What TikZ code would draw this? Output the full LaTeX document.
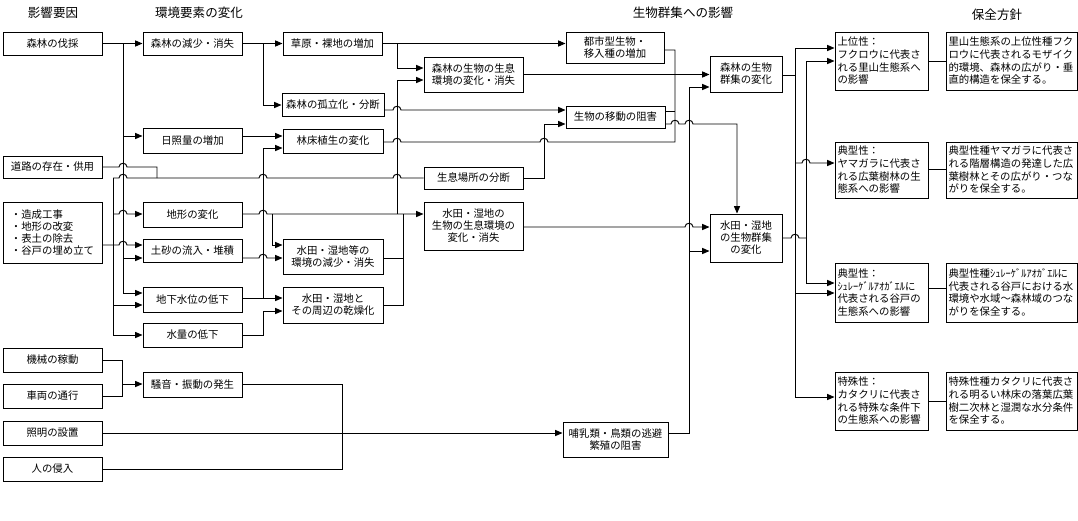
\documentclass[tikz,border=0pt]{standalone}
\usepackage{fontspec}
\setmainfont{Noto Sans CJK JP}
\usetikzlibrary{arrows.meta}
\newcommand\boxfont{\fontsize{7.8pt}{9pt}\selectfont}
\newcommand\rboxfont{\fontsize{7.8pt}{9.5pt}\selectfont}
\newcommand\hdrfont{\fontsize{9.4pt}{11pt}\selectfont}
\newcommand\hop[2]{-- ({#1-4},#2) .. controls ({#1-4},{#2-5}) and ({#1+4},{#2-5}) .. ({#1+4},#2)}
\newcommand\bx[6]{\node[box,minimum width={(#4-#2)*0.75pt},minimum height={(#5-#3)*0.75pt}] (#1) at ({(#2+#4)/2},{(#3+#5)/2}) {#6};}
\tikzset{
  box/.style={draw,line width=0.7pt,inner sep=0pt,align=center,font=\boxfont},
  gbox/.style={box,align=left,text width=66pt,inner xsep=1.875pt,inner ysep=0pt,font=\rboxfont},
  pbox/.style={box,align=left,text width=94.5pt,inner xsep=1.875pt,inner ysep=0pt,font=\rboxfont},
  hdr/.style={font=\hdrfont,inner sep=0pt},
  arr/.style={-{Triangle[length=5.5pt,width=4.5pt]}}
}
\begin{document}
\begin{tikzpicture}[x=0.75pt,y=-0.75pt,line width=0.7pt]
\useasboundingbox (0,0) rectangle (1078,521);
% headers
\node[hdr] (hd1) at (53,13) {影響要因};
\node[hdr] (hd2) at (199,13) {環境要素の変化};
\node[hdr] (hd3) at (683,13) {生物群集への影響};
\node[hdr] (hd4) at (997,15) {保全方針};
% column A
\bx{a1}{3}{32}{102}{55}{森林の伐採}
\bx{a2}{3}{156}{102}{178}{道路の存在・供用}
\node[box,align=left,minimum width=74.25pt,minimum height=45.75pt] (a3) at (52.5,232.5) {・造成工事\\・地形の改変\\・表土の除去\\・谷戸の埋め立て};
\bx{a4}{3}{348}{102}{372}{機械の稼動}
\bx{a5}{3}{384}{102}{408}{車両の通行}
\bx{a6}{3}{421}{102}{445}{照明の設置}
\bx{a7}{3}{457}{102}{481}{人の侵入}
% column B
\bx{b1}{143}{32}{242}{55}{森林の減少・消失}
\bx{b2}{143}{128}{242}{153}{日照量の増加}
\bx{b3}{143}{202}{242}{227}{地形の変化}
\bx{b4}{143}{239}{242}{262}{土砂の流入・堆積}
\bx{b5}{143}{287}{242}{312}{地下水位の低下}
\bx{b6}{143}{323}{242}{347}{水量の低下}
\bx{b7}{143}{372}{242}{397}{騒音・振動の発生}
% column C
\bx{c1}{283}{32}{382}{55}{草原・裸地の増加}
\bx{c2}{282}{93}{384}{116}{森林の孤立化・分断}
\bx{c3}{283}{129}{383}{153}{林床植生の変化}
\bx{c4}{283}{239}{383}{274}{水田・湿地等の\\環境の減少・消失}
\bx{c5}{283}{287}{383}{323}{水田・湿地と\\その周辺の乾燥化}
% column D
\bx{d1}{424}{57}{523}{92}{森林の生物の生息\\環境の変化・消失}
\bx{d2}{424}{167}{523}{189}{生息場所の分断}
\bx{d3}{424}{202}{523}{250}{水田・湿地の\\生物の生息環境の\\変化・消失}
% column E
\bx{e1}{566}{32}{664}{63}{都市型生物・\\移入種の増加}
\bx{e2}{566}{106}{665}{128}{生物の移動の阻害}
\bx{e3}{563}{422}{668}{457}{哺乳類・鳥類の逃避\\繁殖の阻害}
% column F
\bx{f1}{710}{56}{782}{92}{森林の生物\\群集の変化}
\bx{f2}{710}{214}{782}{262}{水田・湿地\\の生物群集\\の変化}
% column G
\node[gbox,minimum height=43.5pt] (g1) at (881.5,61) {上位性：\\フクロウに代表さ\\れる里山生態系へ\\の影響};
\node[gbox,minimum height=42pt] (g2) at (881.5,170) {典型性：\\ヤマガラに代表さ\\れる広葉樹林の生\\態系への影響};
\node[gbox,minimum height=44.25pt] (g3) at (881.5,292.5) {典型性：\\ｼｭﾚｰｹﾞﾙｱｵｶﾞｴﾙに\\代表される谷戸の\\生態系への影響};
\node[gbox,minimum height=43.5pt] (g4) at (881.5,401) {特殊性：\\カタクリに代表さ\\れる特殊な条件下\\の生態系への影響};
% column P
\node[pbox,minimum height=43.5pt] (p1) at (1011.5,61) {里山生態系の上位性種フク\\ロウに代表されるモザイク\\的環境、森林の広がり・垂\\直的構造を保全する。};
\node[pbox,minimum height=42pt] (p2) at (1011.5,170) {典型性種ヤマガラに代表さ\\れる階層構造の発達した広\\葉樹林とその広がり・つな\\がりを保全する。};
\node[pbox,minimum height=44.25pt] (p3) at (1011.5,292.5) {典型性種ｼｭﾚｰｹﾞﾙｱｵｶﾞｴﾙに\\代表される谷戸における水\\環境や水域～森林域のつな\\がりを保全する。};
\node[pbox,minimum height=43.5pt] (p4) at (1011.5,401) {特殊性種カタクリに代表さ\\れる明るい林床の落葉広葉\\樹二次林と湿潤な水分条件\\を保全する。};

% ---- connectors A -> B
\draw[arr] (a1.east) -- (b1.west);
\draw (123,43.5) -- (123,293);
\draw[arr] (123,136) -- (123,136 -| b2.west);
\draw[arr] (123,258) -- (123,258 -| b4.west);
\draw[arr] (123,293) -- (123,293 -| b5.west);
\draw (a2.east) \hop{123}{167} -- (157,167) -- (157,178);
\draw (113,178) \hop{123}{178} \hop{263}{178} \hop{397}{178} -- (d2.west);
\draw (113,178) -- (113,335);
\draw[arr] (113,214) \hop{123}{214} -- (113,214 -| b3.west);
\draw[arr] (a3.east |- 0,245) \hop{123}{245} -- (123,245 -| b4.west);
\draw[arr] (113,305) -- (113,305 -| b5.west);
\draw[arr] (113,335) -- (113,335 -| b6.west);
\draw (a4.east) -- (122,360) -- (122,396) -- (a5.east |- 0,396);
\draw[arr] (122,384) -- (122,384 -| b7.west);
\draw (b7.east |- 0,384) -- (342,384) -- (342,469) -- (a7.east |- 0,469);
\draw[arr] (a6.east) -- (e3.west |- a6.east);
% ---- B -> C
\draw[arr] (b1.east) -- (c1.west);
\draw[arr] (263,43.5) -- (263,105) -- (263,105 -| c2.west);
\draw[arr] (b2.east |- 0,136) -- (c3.west |- 0,136);
\draw[arr] (b5.east |- 0,298) -- (c5.west |- 0,298);
\draw[arr] (263,298) -- (263,148) -- (c3.west |- 0,148);
\draw[arr] (b6.east) -- (263,335) -- (263,311) -- (c5.west |- 0,311);
\draw[arr] (b3.east |- 0,214) \hop{263}{214} -- (d3.west |- 0,214);
\draw[arr] (272,214) -- (272,245) -- (c4.west |- 0,245);
\draw[arr] (b4.east |- 0,258) \hop{263}{258} -- (c4.west |- 0,258);
% ---- C -> D/E
\draw (c4.east |- 0,258) -- (403,258);
\draw (c5.east |- 0,305) -- (403,305) -- (403,214);
\draw[arr] (397,214) -- (397,80) -- (d1.west |- 0,80);
\draw[arr] (c1.east) -- (e1.west |- c1.east);
\draw[arr] (397,43.5) -- (397,68) -- (d1.west |- 0,68);
\draw[arr] (c2.east |- 0,110) \hop{397}{110} -- (e2.west |- 0,110);
\draw (c3.east |- 0,142) \hop{397}{142} \hop{544}{142} -- (675,142) -- (675,50) -- (e1.east |- 0,50);
\draw (e2.east |- 0,111) -- (675,111);
% ---- D/E -> F
\draw[arr] (d1.east) -- (f1.west |- d1.east);
\draw[arr] (d2.east) -- (544,178) -- (544,124) -- (e2.west |- 0,124);
\draw[arr] (e2.east |- 0,124) \hop{675}{124} \hop{689}{124} -- (737,124) -- (737,124 |- f2.north);
\draw[arr] (d3.east |- 0,227) \hop{689}{227} -- (f2.west |- 0,227);
\draw[arr] (e3.east |- 0,433) -- (689,433) -- (689,87) -- (f1.west |- 0,87);
\draw[arr] (689,251) -- (f2.west |- 0,251);
% ---- F -> G
\draw (f1.east |- 0,75) -- (795,75);
\draw (795,48) -- (795,397);
\draw[arr] (795,48) -- (g1.west |- 0,48);
\draw[arr] (795,163) \hop{806}{163} -- (g2.west |- 0,163);
\draw[arr] (795,293) -- (g3.west |- 0,293);
\draw[arr] (795,397) -- (g4.west |- 0,397);
\draw (f2.east |- 0,238) \hop{795}{238} -- (806,238);
\draw (806,61) -- (806,283);
\draw[arr] (806,61) -- (g1.west |- 0,61);
\draw[arr] (806,283) -- (g3.west |- 0,283);
% ---- G -> P
\draw (g1.east |- 0,61) -- (p1.west |- 0,61);
\draw (g2.east |- 0,169) -- (p2.west |- 0,169);
\draw (g3.east |- 0,288) -- (p3.west |- 0,288);
\draw (g4.east |- 0,401) -- (p4.west |- 0,401);
\end{tikzpicture}
\end{document}
